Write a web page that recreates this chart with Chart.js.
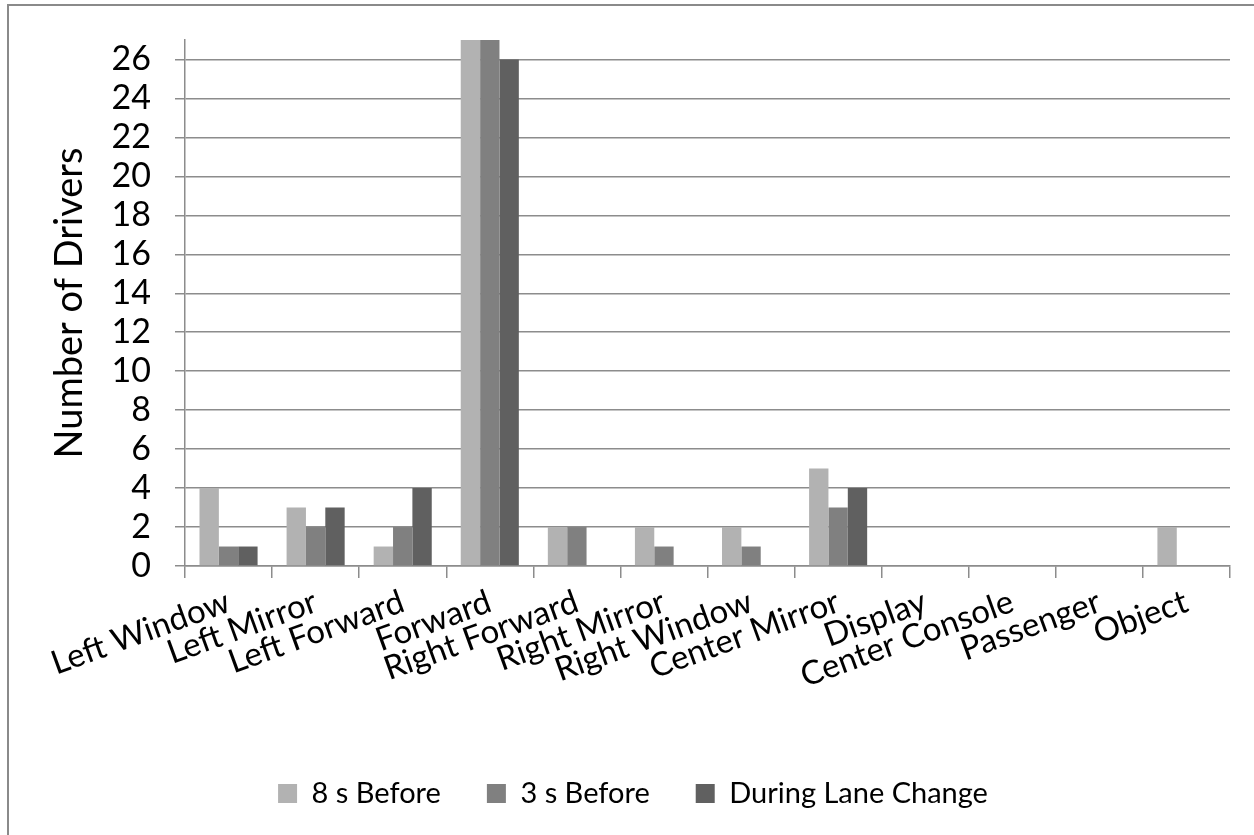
<!DOCTYPE html>
<html>
<head>
<meta charset="utf-8">
<script src="https://cdn.jsdelivr.net/npm/chart.js@4/dist/chart.umd.min.js"></script>
<style>
  html, body { margin: 0; padding: 0; background: #ffffff; }
  #wrap { position: relative; width: 1254px; height: 835px; overflow: hidden; }
  #frame { position: absolute; left: 7px; top: 4px; width: 1400px; height: 1000px;
           border-left: 2px solid #8a8a8a; border-top: 2px solid #8a8a8a; pointer-events: none; }
  canvas { position: absolute; left: 0; top: 0; }
</style>
</head>
<body>
<div id="wrap">
  <canvas id="chart" width="1254" height="835"></canvas>
  <div id="frame"></div>
</div>
<script>
// Where drivers were looking around a lane change
const categories = ['Left Window', 'Left Mirror', 'Left Forward', 'Forward', 'Right Forward',
  'Right Mirror', 'Right Window', 'Center Mirror', 'Display', 'Center Console', 'Passenger', 'Object'];
const seriesNames = ['8 s Before', '3 s Before', 'During Lane Change'];
const eightSecondsBefore = [4, 3, 1, 27, 2, 2, 2, 5, 0, 0, 0, 2];
const threeSecondsBefore = [1, 2, 2, 27, 2, 1, 1, 3, 0, 0, 0, 0];
const duringLaneChange   = [1, 3, 4, 26, 0, 0, 0, 4, 0, 0, 0, 0];
const seriesColors = ['#b2b2b2', '#808080', '#606060'];
const yMax = 27;
const yStep = 2;

const FONT = 'Lato, "Open Sans", sans-serif';
const gridColor = '#8c8c8c';

const datasets = [eightSecondsBefore, threeSecondsBefore, duringLaneChange].map((vals, i) => ({
  label: seriesNames[i],
  data: vals,
  backgroundColor: seriesColors[i],
  borderWidth: 0,
  categoryPercentage: 0.667,
  barPercentage: 1.0
}));

// nudge the legend row so it sits centred under the plot
const legendShift = {
  id: 'legendShift',
  afterLayout(chart) {
    const lg = chart.legend;
    if (lg) { lg.left += 14; lg.right += 14; }
  }
};

new Chart(document.getElementById('chart'), {
  type: 'bar',
  data: { labels: categories, datasets },
  plugins: [legendShift],
  options: {
    responsive: false,
    animation: false,
    devicePixelRatio: 1,
    layout: { padding: { left: 8, top: 40, right: 24, bottom: 17 } },
    plugins: {
      tooltip: { enabled: false },
      legend: {
        position: 'bottom',
        labels: {
          boxWidth: 19,
          boxHeight: 19,
          padding: 46,
          color: '#000000',
          font: { family: FONT, size: 29 }
        }
      }
    },
    scales: {
      x: {
        grid: { display: true, drawOnChartArea: false, drawTicks: true, tickLength: 12,
                color: gridColor, lineWidth: 1.5, offset: true },
        border: { display: true, color: gridColor, width: 1.5 },
        ticks: {
          minRotation: 20, maxRotation: 20, autoSkip: false, padding: 4,
          color: '#000000', font: { family: FONT, size: 33 }
        },
        afterFit(scale) { scale.height = 167; }
      },
      y: {
        min: 0,
        max: yMax,
        grid: { color: gridColor, lineWidth: 1.5, drawTicks: true, tickLength: 10 },
        border: { display: true, color: gridColor, width: 1.5 },
        ticks: {
          stepSize: yStep, includeBounds: false, autoSkip: false, padding: 24,
          color: '#000000', font: { family: FONT, size: 34 }
        },
        title: {
          display: true, text: 'Number of Drivers', color: '#000000',
          font: { family: FONT, size: 38 }, padding: { top: 39, bottom: 0 }
        },
        afterFit(scale) {
          scale.width = 177;
          scale.paddingTop = 0;
          scale.paddingBottom = 0;
        }
      }
    }
  }
});
</script>
</body>
</html>
